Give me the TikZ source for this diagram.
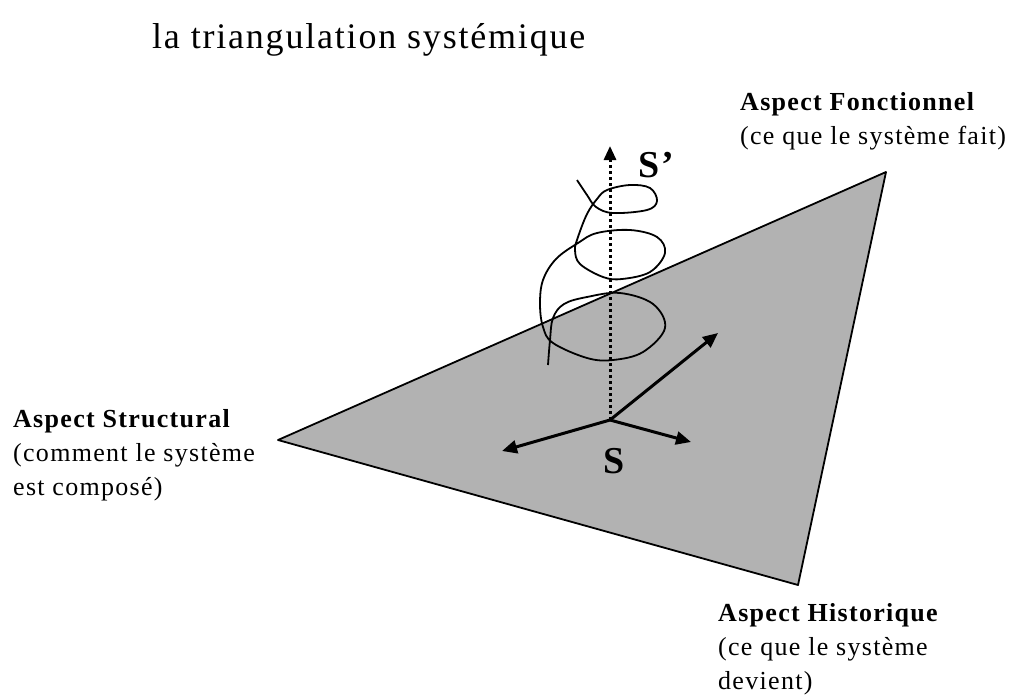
\documentclass[tikz,border=0pt]{standalone}
\usepackage{fontspec}
\setmainfont[LetterSpace=5]{Liberation Serif}
\usetikzlibrary{arrows.meta,positioning}
\definecolor{plan}{RGB}{178,178,178}

\begin{document}
\begin{tikzpicture}[
  x=1pt, y=-1pt,
  titre/.style={font=\fontsize{36}{40}\selectfont, anchor=base west, inner sep=0pt},
  aspect/.style={font=\fontsize{26}{34}\selectfont, align=left, anchor=base west, inner sep=0pt},
  lettre/.style={font=\fontsize{38}{40}\selectfont\bfseries, anchor=base, inner sep=0pt},
  ar/.style={-{Triangle[length=15pt, width=13pt]}, line width=3pt},
  axe/.style={-{Triangle[length=14pt, width=12pt]}, line width=3pt, dash pattern=on 3pt off 3pt}
]
  \useasboundingbox (0,0) rectangle (1016,696);
  \node[titre] (titre) at (152,48) {la triangulation systémique};

  % le plan
  \coordinate (struct) at (278,440);
  \coordinate (fonc) at (886,172);
  \coordinate (hist) at (798,585);
  \draw[fill=plan, line width=1.8pt, line join=round] (struct) -- (fonc) -- (hist) -- cycle;

  % base = derniere ligne
  \node[aspect] (lfonc) at (740,144)
    {\textbf{Aspect Fonctionnel}\\(ce que le système fait)};
  \node[aspect] (lstruct) at (13,495)
    {\textbf{Aspect Structural}\\(comment le système\\est composé)};
  \node[aspect] (lhist) at (718,689)
    {\textbf{Aspect Historique}\\(ce que le système\\devient)};

  % le systeme et ses axes
  \coordinate (S) at (610,420);
  \coordinate (haut) at (610,146);
  \coordinate (ax1) at (718,333);
  \coordinate (ax2) at (502,451);
  \coordinate (ax3) at (691,442);
  \draw[axe] (S) -- (haut);
  \draw[ar] (S) -- (ax1);
  \draw[ar] (S) -- (ax2);
  \draw[ar] (S) -- (ax3);
  \node[lettre] (nS) at (614,473) {S};
  \node[lettre] (nSp) at (656,177) {S'};

  % spirale
  \draw[line width=1.8pt] plot[smooth, tension=0.6] coordinates {
    (577,180) (587,195) (596,207) (613,213) (647,210) (657,201) (650,188)
    (630,185) (607,190) (597,199) (587,214) (578,237) (575,250)
    (580,264) (603,277) (622,279) (650,272) (665,253) (657,237)
    (630,230) (597,233) (578,243) (556,259) (543,280) (540,304)
    (543,327) (553,343) (587,358) (613,360) (643,352) (665,328)
    (653,304) (620,293) (587,297) (564,304) (553,318) (550,340) (548,365)};
\end{tikzpicture}
\end{document}
